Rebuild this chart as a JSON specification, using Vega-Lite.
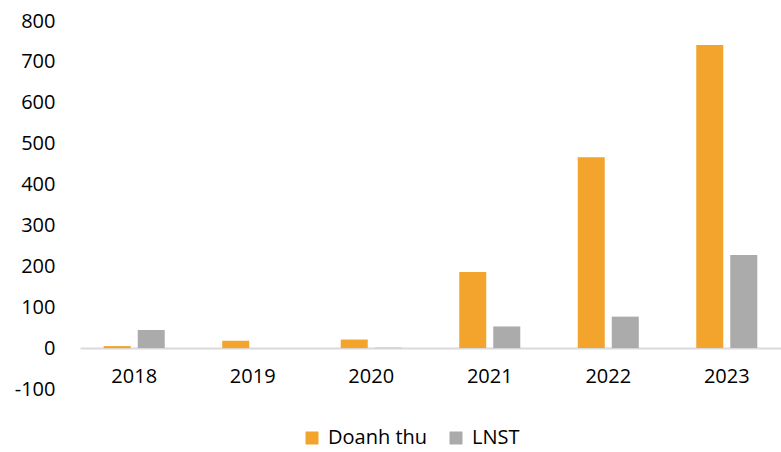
{
  "$schema": "https://vega.github.io/schema/vega-lite/v6.json",
  "width": 701,
  "height": 368,
  "autosize": {"type": "none"},
  "padding": {"left": 80, "top": 21, "right": 0, "bottom": 63},
  "background": "white",
  "config": {
    "view": {"stroke": null},
    "font": "Open Sans",
    "text": {"font": "Open Sans"}
  },
  "data": {
    "values": [
      {"year": "2018", "series": "Doanh thu", "value": 5},
      {"year": "2018", "series": "LNST", "value": 44},
      {"year": "2019", "series": "Doanh thu", "value": 18},
      {"year": "2019", "series": "LNST", "value": 0},
      {"year": "2020", "series": "Doanh thu", "value": 21},
      {"year": "2020", "series": "LNST", "value": 1},
      {"year": "2021", "series": "Doanh thu", "value": 186},
      {"year": "2021", "series": "LNST", "value": 53},
      {"year": "2022", "series": "Doanh thu", "value": 467},
      {"year": "2022", "series": "LNST", "value": 77},
      {"year": "2023", "series": "Doanh thu", "value": 741},
      {"year": "2023", "series": "LNST", "value": 228}
    ]
  },
  "mark": {"type": "bar"},
  "encoding": {
    "x": {
      "field": "year",
      "type": "nominal",
      "title": null,
      "scale": {"paddingInner": 0.485, "paddingOuter": 0.2},
      "axis": {
        "orient": "bottom",
        "offset": -41,
        "labelAngle": 0,
        "labelFontSize": 20,
        "labelColor": "#000000",
        "labelPadding": 18,
        "ticks": false,
        "domainColor": "#d9d9d9",
        "domainWidth": 2
      }
    },
    "xOffset": {
      "field": "series",
      "type": "nominal",
      "scale": {"paddingInner": 0.206}
    },
    "y": {
      "field": "value",
      "type": "quantitative",
      "title": null,
      "scale": {"domain": [-100, 800], "nice": false, "zero": false},
      "axis": {
        "values": [-100, 0, 100, 200, 300, 400, 500, 600, 700, 800],
        "labelExpr": "replace(datum.label, '−', '-')",
        "domain": false,
        "ticks": false,
        "grid": false,
        "labelFontSize": 20,
        "labelColor": "#000000",
        "labelPadding": 25
      }
    },
    "color": {
      "field": "series",
      "type": "nominal",
      "scale": {"domain": ["Doanh thu", "LNST"], "range": ["#F2A42D", "#ABABAB"]},
      "legend": {
        "title": null,
        "orient": "none",
        "legendX": 222,
        "legendY": 407,
        "direction": "horizontal",
        "symbolType": "square",
        "symbolSize": 169,
        "symbolStrokeWidth": 0,
        "labelFontSize": 20,
        "labelColor": "#000000",
        "labelOffset": 6,
        "columnPadding": 18
      }
    }
  }
}
